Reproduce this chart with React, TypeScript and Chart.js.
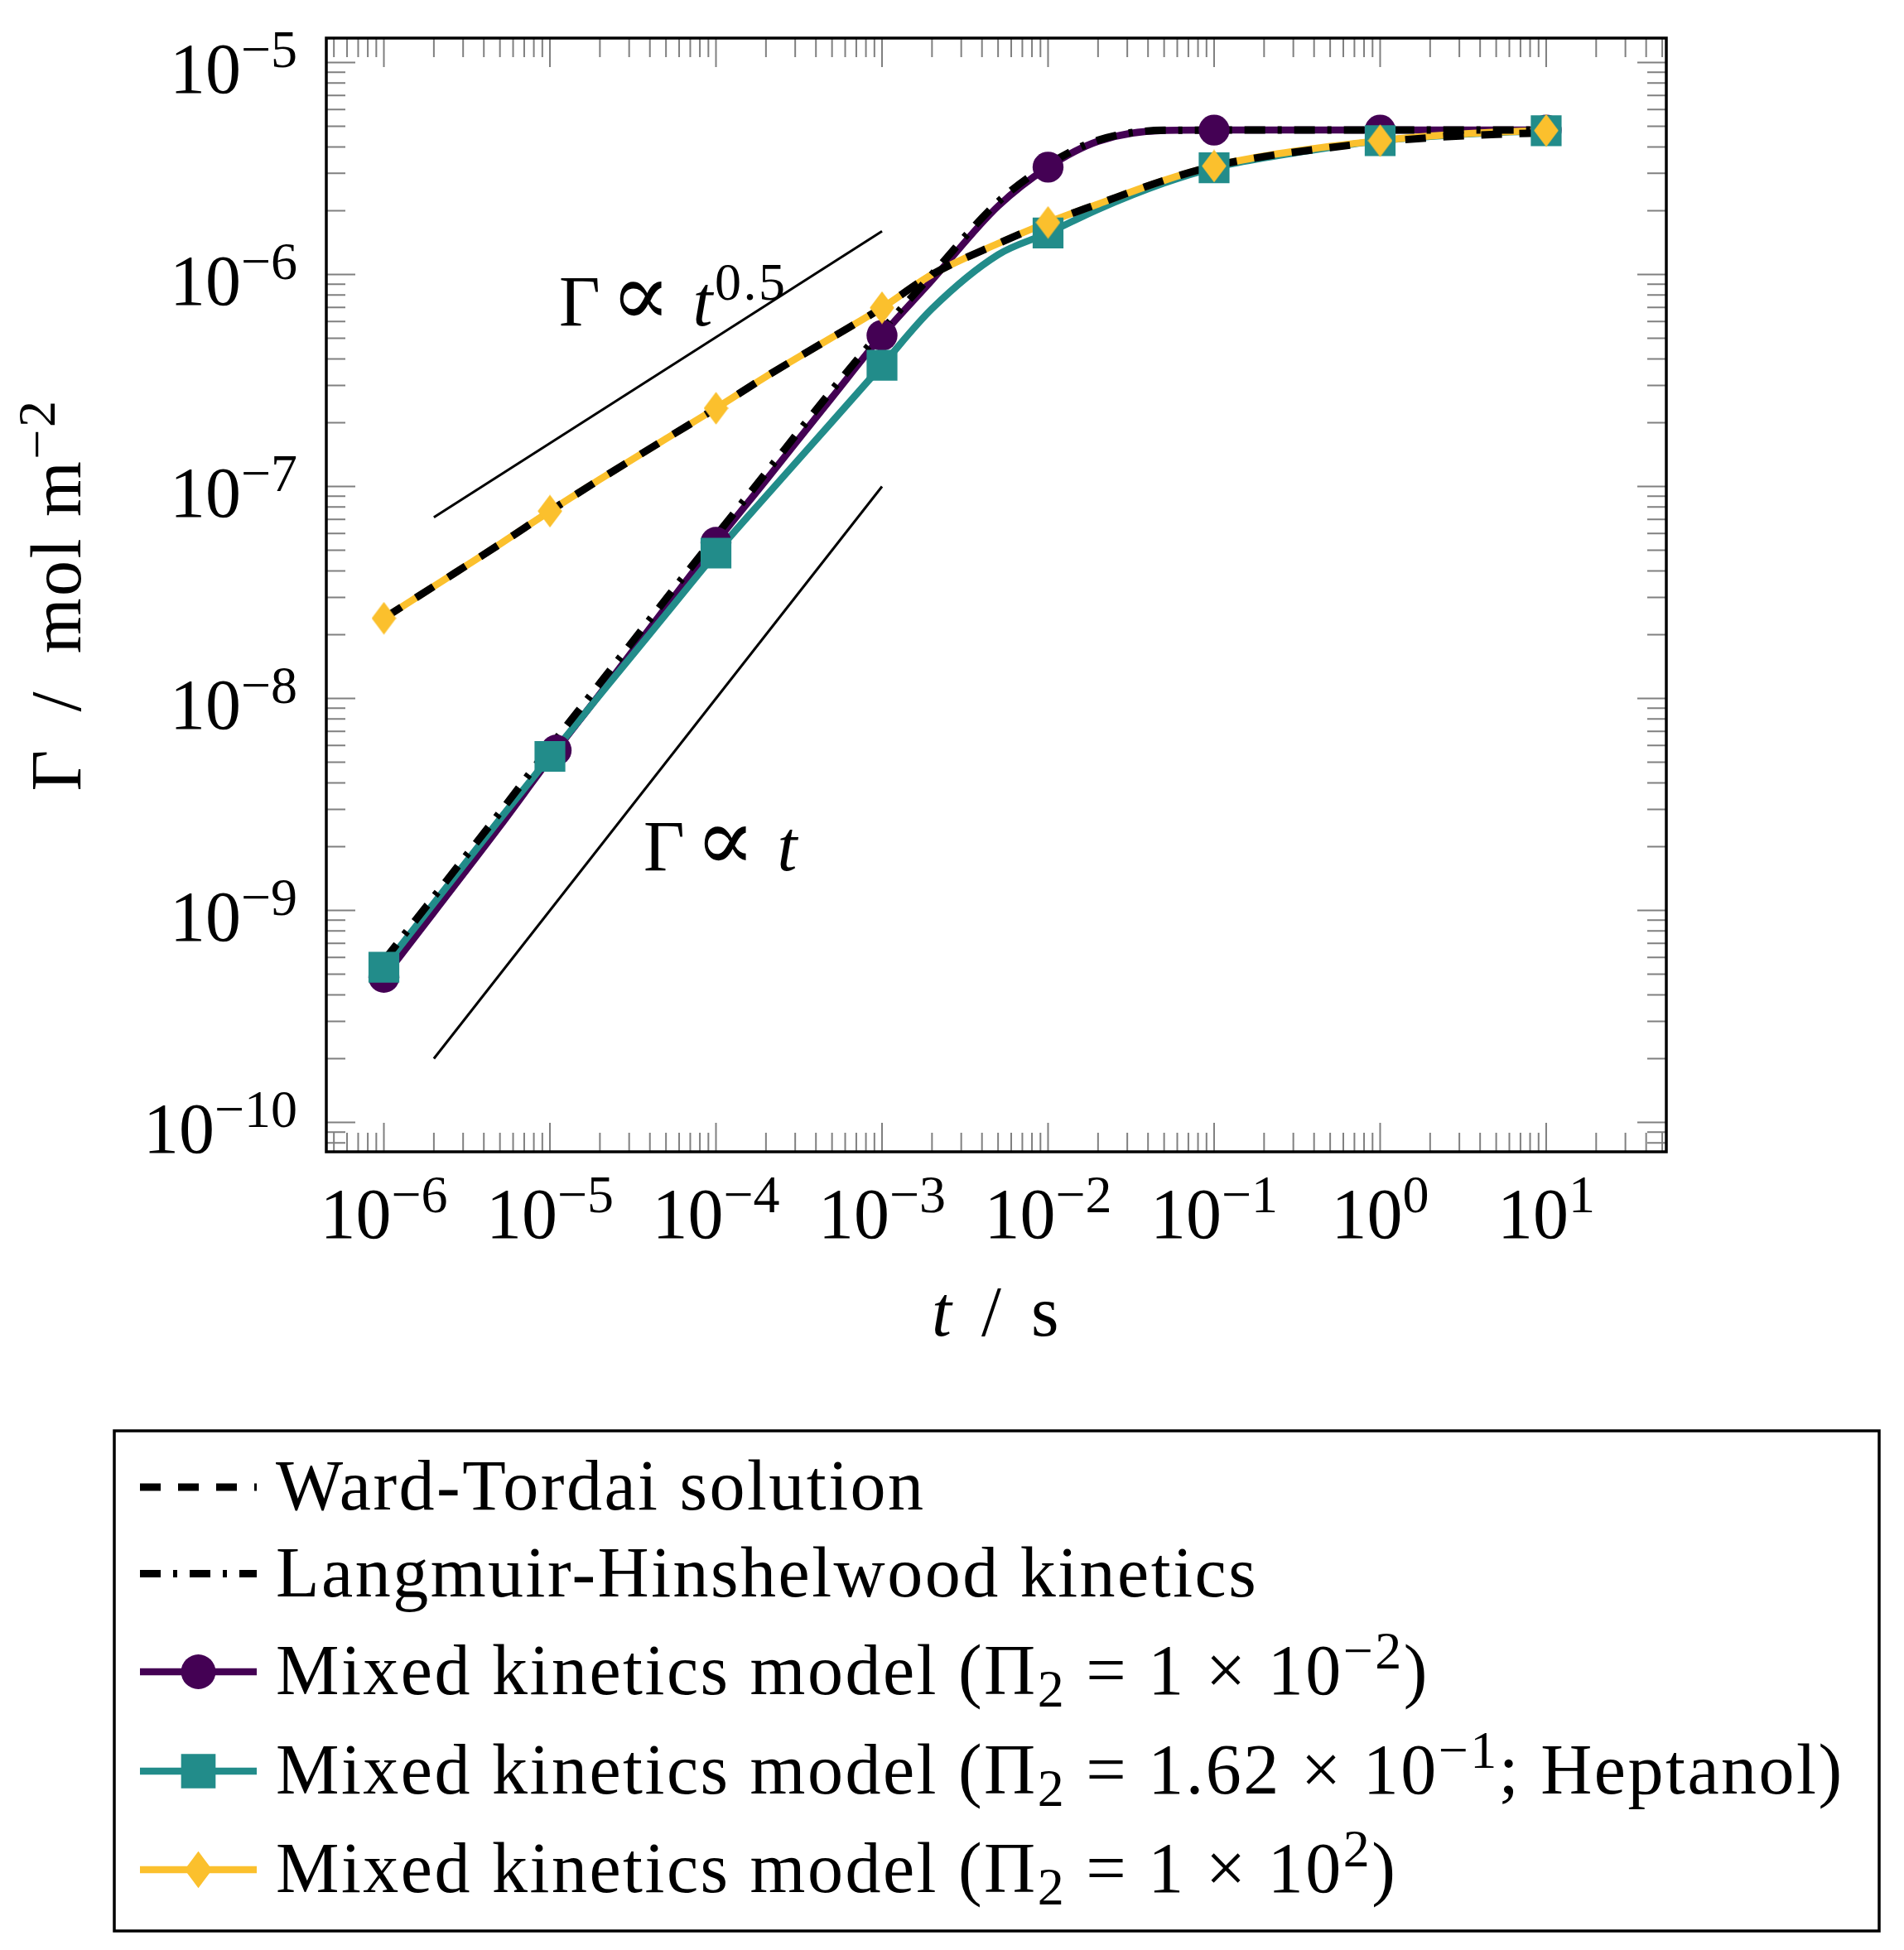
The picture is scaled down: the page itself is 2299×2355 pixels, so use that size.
import { useEffect, useRef } from "react"
import { Chart, registerables } from "chart.js"

Chart.register(...registerables)

// time grid (s) the curves were read at
const T_GRID = [1e-6, 2e-6, 5e-6, 1e-5, 2e-5, 5e-5, 1e-4, 2e-4, 5e-4, 1e-3, 2e-3, 5e-3, 1e-2, 2e-2, 5e-2, 1e-1, 2e-1, 5e-1, 1, 2, 5, 10]

// surface excess (mol m^-2) along T_GRID
const WARD_TORDAI = [2.39e-8, 3.38e-8, 5.35e-8, 7.65e-8, 1.08e-7, 1.68e-7, 2.34e-7, 3.3e-7, 5.05e-7, 6.97e-7, 1.0e-6, 1.4e-6, 1.76e-6, 2.15e-6, 2.78e-6, 3.25e-6, 3.6e-6, 3.97e-6, 4.22e-6, 4.42e-6, 4.58e-6, 4.66e-6]
const LANGMUIR_HINSHELWOOD = [5.8e-10, 1.16e-9, 2.9e-9, 5.9e-9, 1.18e-8, 2.95e-8, 5.85e-8, 1.16e-7, 2.85e-7, 5.45e-7, 1.0e-6, 2.2e-6, 3.3e-6, 4.3e-6, 4.79e-6, 4.8e-6, 4.8e-6, 4.8e-6, 4.8e-6, 4.8e-6, 4.8e-6, 4.8e-6]
const MIXED_LOW = [4.84e-10, 9.8e-10, 2.5e-9, 5.2e-9, 1.05e-8, 2.7e-8, 5.45e-8, 1.07e-7, 2.63e-7, 5.16e-7, 9.4e-7, 2.1e-6, 3.21e-6, 4.25e-6, 4.78e-6, 4.8e-6, 4.8e-6, 4.8e-6, 4.8e-6, 4.8e-6, 4.8e-6, 4.8e-6]
const MIXED_HEPTANOL = [5.4e-10, 1.08e-9, 2.7e-9, 5.33e-9, 1.04e-8, 2.5e-8, 4.85e-8, 9.0e-8, 2.02e-7, 3.73e-7, 6.9e-7, 1.24e-6, 1.57e-6, 2.03e-6, 2.7e-6, 3.19e-6, 3.55e-6, 3.98e-6, 4.28e-6, 4.48e-6, 4.68e-6, 4.77e-6]
const MIXED_HIGH = [2.39e-8, 3.38e-8, 5.35e-8, 7.65e-8, 1.08e-7, 1.68e-7, 2.34e-7, 3.3e-7, 5.05e-7, 6.97e-7, 1.0e-6, 1.4e-6, 1.76e-6, 2.15e-6, 2.78e-6, 3.25e-6, 3.62e-6, 4.02e-6, 4.28e-6, 4.5e-6, 4.7e-6, 4.78e-6]

// marker positions
const MARK_T = [1e-6, 1e-5, 1e-4, 1e-3, 1e-2, 1e-1, 1, 10]
const MARK_T_LOW = [1e-6, 1.09e-5, 1e-4, 1e-3, 1e-2, 1e-1, 1, 10]
const MARKS_LOW = [4.84e-10, 5.7e-9, 5.45e-8, 5.16e-7, 3.21e-6, 4.8e-6, 4.8e-6, 4.8e-6]
const MARKS_HEPTANOL = [5.4e-10, 5.33e-9, 4.85e-8, 3.73e-7, 1.57e-6, 3.19e-6, 4.28e-6, 4.77e-6]
const MARKS_HIGH = [2.39e-8, 7.65e-8, 2.34e-7, 6.97e-7, 1.76e-6, 3.25e-6, 4.28e-6, 4.78e-6]

// slope guide lines
const REF_T = [2e-6, 1e-3]
const REF_SQRT = [7.16e-8, 1.6e-6]
const REF_LINEAR = [2e-10, 1e-7]

// axis ticks
const X_TICKS = [1e-6, 1e-5, 1e-4, 1e-3, 1e-2, 1e-1, 1, 10]
const X_TICK_EXP = ["−6", "−5", "−4", "−3", "−2", "−1", "0", "1"]
const Y_TICKS = [1e-10, 1e-9, 1e-8, 1e-7, 1e-6, 1e-5]
const Y_TICK_EXP = ["−10", "−9", "−8", "−7", "−6", "−5"]
const MINOR_MULT = [2, 3, 4, 5, 6, 7, 8, 9]

const PURPLE = "#440154"
const TEAL = "#228c8a"
const YELLOW = "#fbc02d"
const TICK_GREY = "#808080"

const WT_DASH = [25, 21]
const LH_DASH = [25, 15, 5, 15]

const FAMILY = '"Liberation Serif", "DejaVu Serif", serif'
const FS = 86
const FS_SCRIPT = 64
const FS_SYM = 108
const SUP_RISE = 31
const SUB_DROP = 15

const CIRCLE_R = 18.7
const SQ_HALF = 18.6
const DIA_W = 14.8
const DIA_H = 19.8
const LEGEND_MARK_SCALE = 1.12

type Run = { t: string; k?: "i" | "sup" | "sub" | "sym" }

const HS = "\u200A"
const TS = "\u2009"
const Y_TITLE: Run[] = [{ t: `Γ ${TS}/${TS} mol m` }, { t: "−2", k: "sup" }]
const X_TITLE: Run[] = [{ t: "t", k: "i" }, { t: ` ${HS}/${HS} s` }]
const NOTE_SQRT: Run[] = [{ t: `Γ${HS}` }, { t: "∝", k: "sym" }, { t: " " }, { t: "t", k: "i" }, { t: "0.5", k: "sup" }]
const NOTE_LINEAR: Run[] = [{ t: `Γ${HS}` }, { t: "∝", k: "sym" }, { t: " " }, { t: "t", k: "i" }]

const LEGEND_ROWS: { runs: Run[]; color: string; width: number; dash: number[]; marker: string | null }[] = [
  { runs: [{ t: "Ward-Tordai solution" }], color: "#000", width: 9, dash: WT_DASH, marker: null },
  { runs: [{ t: "Langmuir-Hinshelwood kinetics" }], color: "#000", width: 9, dash: LH_DASH, marker: null },
  {
    runs: [{ t: "Mixed kinetics model (Π" }, { t: "2", k: "sub" }, { t: " = 1 × 10" }, { t: "−2", k: "sup" }, { t: ")" }],
    color: PURPLE, width: 8.5, dash: [], marker: "circle",
  },
  {
    runs: [{ t: "Mixed kinetics model (Π" }, { t: "2", k: "sub" }, { t: " = 1.62 × 10" }, { t: "−1", k: "sup" }, { t: "; Heptanol)" }],
    color: TEAL, width: 8.5, dash: [], marker: "square",
  },
  {
    runs: [{ t: "Mixed kinetics model (Π" }, { t: "2", k: "sub" }, { t: " = 1 × 10" }, { t: "2", k: "sup" }, { t: ")" }],
    color: YELLOW, width: 8.5, dash: [], marker: "diamond",
  },
]

function setRunFont(ctx: CanvasRenderingContext2D, k?: string) {
  if (k === "sym") {
    ctx.font = `${FS_SYM}px ${FAMILY}`
    return
  }
  const size = k === "sup" || k === "sub" ? FS_SCRIPT : FS
  ctx.font = `${k === "i" ? "italic " : ""}${size}px ${FAMILY}`
}

function measureRuns(ctx: CanvasRenderingContext2D, runs: Run[]) {
  let w = 0
  for (const r of runs) {
    setRunFont(ctx, r.k)
    w += ctx.measureText(r.t).width
  }
  return w
}

function drawRuns(ctx: CanvasRenderingContext2D, runs: Run[], x: number, y: number) {
  for (const r of runs) {
    setRunFont(ctx, r.k)
    const dy = r.k === "sup" ? -SUP_RISE : r.k === "sub" ? SUB_DROP : 0
    ctx.fillText(r.t, x, y + dy)
    x += ctx.measureText(r.t).width
  }
  return x
}

function markerPath(ctx: CanvasRenderingContext2D, kind: string, x: number, y: number, s = 1) {
  ctx.beginPath()
  if (kind === "circle") {
    ctx.arc(x, y, CIRCLE_R * s, 0, Math.PI * 2)
  } else if (kind === "square") {
    ctx.rect(x - SQ_HALF * s, y - SQ_HALF * s, 2 * SQ_HALF * s, 2 * SQ_HALF * s)
  } else {
    ctx.moveTo(x, y - DIA_H * s)
    ctx.lineTo(x + DIA_W * s, y)
    ctx.lineTo(x, y + DIA_H * s)
    ctx.lineTo(x - DIA_W * s, y)
    ctx.closePath()
  }
}

function makeDiamond() {
  const c = document.createElement("canvas")
  c.width = Math.ceil(DIA_W * 2)
  c.height = Math.ceil(DIA_H * 2)
  const g = c.getContext("2d")!
  g.fillStyle = YELLOW
  markerPath(g, "diamond", c.width / 2, c.height / 2)
  g.fill()
  return c
}

const pgfAxes = {
  id: "pgfAxes",
  beforeDatasetsDraw(chart: any) {
    const { ctx, chartArea: a, scales } = chart
    const xs = scales.x
    const ys = scales.y
    ctx.save()
    ctx.strokeStyle = TICK_GREY
    ctx.lineWidth = 2
    ctx.beginPath()
    for (let d = -7; d <= 1; d++) {
      for (const m of [1, ...MINOR_MULT]) {
        const v = m * Math.pow(10, d)
        if (v < xs.min || v > xs.max) continue
        const p = xs.getPixelForValue(v)
        const len = m === 1 ? 35 : 23
        ctx.moveTo(p, a.bottom)
        ctx.lineTo(p, a.bottom - len)
        ctx.moveTo(p, a.top)
        ctx.lineTo(p, a.top + len)
      }
    }
    for (let d = -11; d <= -5; d++) {
      for (const m of [1, ...MINOR_MULT]) {
        const v = m * Math.pow(10, d)
        if (v < ys.min || v > ys.max) continue
        const p = ys.getPixelForValue(v)
        const len = m === 1 ? 35 : 23
        ctx.moveTo(a.left, p)
        ctx.lineTo(a.left + len, p)
        ctx.moveTo(a.right, p)
        ctx.lineTo(a.right - len, p)
      }
    }
    ctx.stroke()
    ctx.restore()
  },
  afterDraw(chart: any) {
    const { ctx, chartArea: a, scales } = chart
    const xs = scales.x
    const ys = scales.y
    ctx.save()

    // frame
    ctx.strokeStyle = "#000"
    ctx.lineWidth = 3.5
    ctx.strokeRect(a.left, a.top, a.right - a.left, a.bottom - a.top)

    ctx.fillStyle = "#000"
    ctx.textAlign = "left"
    ctx.textBaseline = "alphabetic"

    // tick labels
    X_TICKS.forEach((v, i) => {
      const runs: Run[] = [{ t: "10" }, { t: X_TICK_EXP[i], k: "sup" }]
      const w = measureRuns(ctx, runs)
      drawRuns(ctx, runs, xs.getPixelForValue(v) - w / 2, a.bottom + 104)
    })
    Y_TICKS.forEach((v, i) => {
      const runs: Run[] = [{ t: "10" }, { t: Y_TICK_EXP[i], k: "sup" }]
      const w = measureRuns(ctx, runs)
      drawRuns(ctx, runs, a.left - 35 - w, ys.getPixelForValue(v) + 36)
    })

    ctx.letterSpacing = "2.5px"

    // axis titles
    const xw = measureRuns(ctx, X_TITLE)
    drawRuns(ctx, X_TITLE, (a.left + a.right) / 2 - xw / 2, 1613)
    ctx.save()
    ctx.translate(97, (a.top + a.bottom) / 2)
    ctx.rotate(-Math.PI / 2)
    const yw = measureRuns(ctx, Y_TITLE)
    drawRuns(ctx, Y_TITLE, -yw / 2, 0)
    ctx.restore()

    // slope notes
    drawRuns(ctx, NOTE_SQRT, xs.getPixelForValue(1.135e-5), ys.getPixelForValue(5.77e-7))
    drawRuns(ctx, NOTE_LINEAR, xs.getPixelForValue(3.66e-5), ys.getPixelForValue(1.55e-9))

    // legend
    ctx.strokeStyle = "#000"
    ctx.lineWidth = 3.5
    ctx.strokeRect(138, 1728, 2131, 604)
    const baselines = [1823, 1927.5, 2046, 2166, 2285]
    LEGEND_ROWS.forEach((row, i) => {
      const b = baselines[i]
      const ly = b - 27
      ctx.save()
      ctx.strokeStyle = row.color
      ctx.lineWidth = row.width
      ctx.setLineDash(row.dash)
      ctx.lineCap = "butt"
      ctx.beginPath()
      ctx.moveTo(169, ly)
      ctx.lineTo(310, ly)
      ctx.stroke()
      if (row.marker) {
        ctx.fillStyle = row.color
        markerPath(ctx, row.marker, 239.5, ly, LEGEND_MARK_SCALE)
        ctx.fill()
      }
      ctx.restore()
      drawRuns(ctx, row.runs, 333, b)
    })

    ctx.restore()
  },
}

const pts = (ts: number[], ys: number[]) => ts.map((t, i) => ({ x: t, y: ys[i] }))

export default function App() {
  const chartRef = useRef<HTMLCanvasElement>(null)

  useEffect(() => {
    if (!chartRef.current) return
    const diamond = makeDiamond()

    const curve = (label: string, ys: number[], color: string, width: number, dash: number[]) => ({
      label,
      data: pts(T_GRID, ys),
      borderColor: color,
      borderWidth: width,
      borderDash: dash,
      borderCapStyle: "butt",
      borderJoinStyle: "round",
      cubicInterpolationMode: "monotone",
      pointRadius: 0,
      fill: false,
    })
    const marks = (label: string, ts: number[], ys: number[], color: string, style: any, radius: number) => ({
      label,
      data: pts(ts, ys),
      showLine: false,
      pointStyle: style,
      pointRadius: radius,
      pointBackgroundColor: color,
      pointBorderWidth: 0,
      borderWidth: 0,
    })

    const chart = new Chart(chartRef.current, {
      type: "line",
      data: {
        datasets: [
          // first dataset is drawn on top
          marks("high marks", MARK_T, MARKS_HIGH, YELLOW, diamond, 20),
          marks("heptanol marks", MARK_T, MARKS_HEPTANOL, TEAL, "rect", SQ_HALF * Math.SQRT2),
          marks("low marks", MARK_T_LOW, MARKS_LOW, PURPLE, "circle", CIRCLE_R),
          curve("Ward-Tordai solution", WARD_TORDAI, "#000", 9, WT_DASH),
          curve("Langmuir-Hinshelwood kinetics", LANGMUIR_HINSHELWOOD, "#000", 9, LH_DASH),
          curve("Mixed high", MIXED_HIGH, YELLOW, 8.5, []),
          curve("Mixed heptanol", MIXED_HEPTANOL, TEAL, 8.5, []),
          curve("Mixed low", MIXED_LOW, PURPLE, 8.5, []),
          { label: "t^0.5", data: pts(REF_T, REF_SQRT), borderColor: "#000", borderWidth: 3, pointRadius: 0 },
          { label: "t", data: pts(REF_T, REF_LINEAR), borderColor: "#000", borderWidth: 3, pointRadius: 0 },
        ] as any,
      },
      options: {
        animation: false,
        responsive: true,
        maintainAspectRatio: false,
        events: [],
        layout: { padding: { left: 394, top: 46, right: 287, bottom: 964 } },
        scales: {
          x: { type: "logarithmic", min: 4.5e-7, max: 52.9, display: false },
          y: { type: "logarithmic", min: 7.27e-11, max: 1.304e-5, display: false },
        },
        plugins: {
          legend: { display: false },
          tooltip: { enabled: false },
        },
      },
      plugins: [pgfAxes],
    })

    return () => {
      chart.destroy()
    }
  }, [])

  return (
    <div style={{ position: "absolute", left: 0, top: 0, width: 2299, height: 2355, background: "#fff" }}>
      <canvas ref={chartRef} />
    </div>
  )
}
